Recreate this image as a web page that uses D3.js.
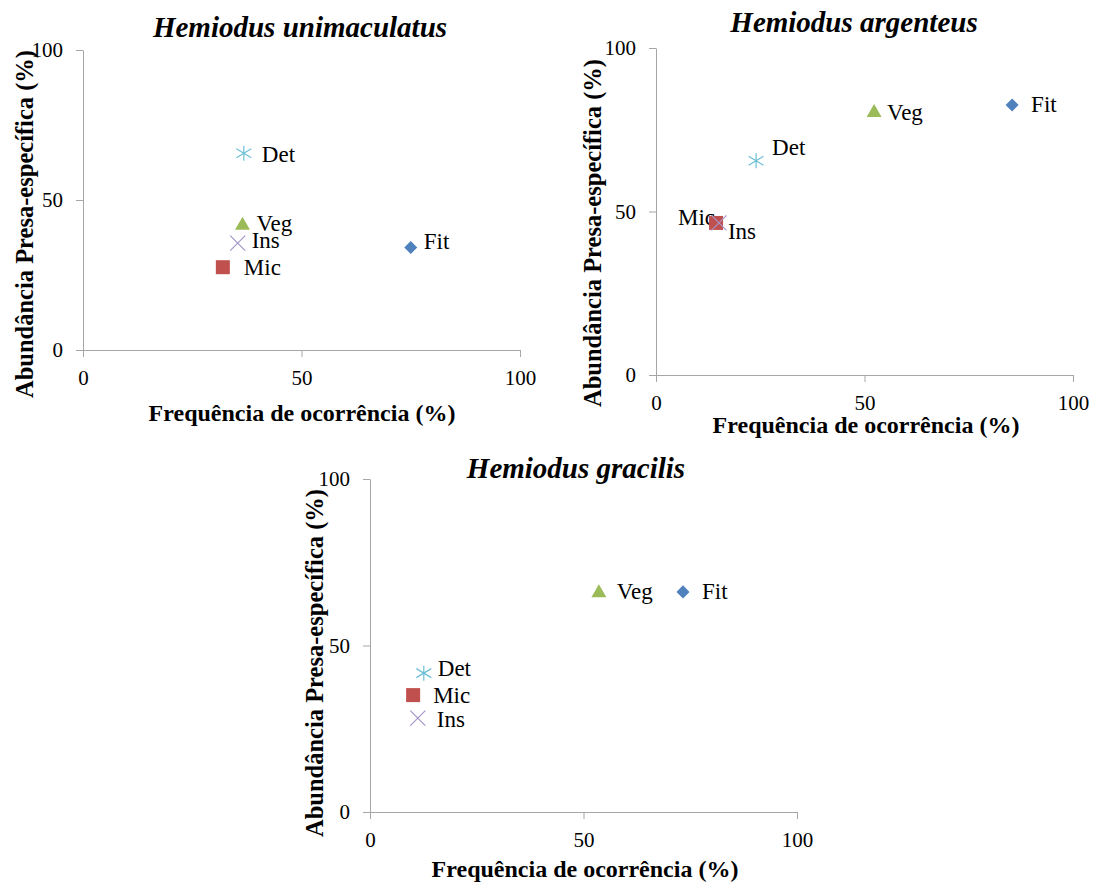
<!DOCTYPE html>
<html>
<head>
<meta charset="utf-8">
<script src="https://cdn.jsdelivr.net/npm/d3@7"></script>
<style>
body { margin: 0; background: #fff; }
svg text { font-family: "Liberation Serif", "Times New Roman", serif; fill: #000; }
.tick line, .domain { stroke: #a6a6a6; }
.tick text { font-size: 21px; }
.title { font-size: 29px; font-weight: bold; font-style: italic; }
.axis-title { font-size: 24px; font-weight: bold; }
.y-title { font-size: 24.5px; }
.point-label { font-size: 23px; }
</style>
</head>
<body>
<div id="viz"></div>
<script>
// data
var categories = ["Fit", "Mic", "Veg", "Ins", "Det"];
var species = ["Hemiodus unimaculatus", "Hemiodus argenteus", "Hemiodus gracilis"];
var freqUnimaculatus  = [75.0, 32.0, 36.5, 35.4, 36.8];
var abundUnimaculatus = [34.2, 27.6, 41.5, 35.6, 65.6];
var freqArgenteus     = [85.4, 14.4, 52.3, 15.1, 24.0];
var abundArgenteus    = [82.6, 46.5, 80.2, 46.5, 65.5];
var freqGracilis      = [73.3, 10.1, 53.6, 11.2, 12.6];
var abundGracilis     = [66.1, 35.1, 65.8, 28.2, 41.7];
var tickValues = [0, 50, 100];
var xTitle = "Frequência de ocorrência (%)";
var yTitle = "Abundância Presa-específica (%)";

var width = 1095, height = 883;
var svg = d3.select("#viz").append("svg").attr("width", width).attr("height", height);

var color = {
  "Fit": "#4f81bd",
  "Mic": "#c0504d",
  "Veg": "#9bbb59",
  "Ins": "#a595c8",
  "Det": "#6cc0d6"
};

// panel layout (pixels)
var panels = [
  { name: species[0], freq: freqUnimaculatus, abund: abundUnimaculatus,
    left: 83, right: 520, top: 50, bottom: 350,
    title: [300, 37], xt: [302, 421], yt: [33, 224],
    // label offsets from marker: [dx, dy, anchor]
    lab: { Fit: [13, -6], Mic: [21, 0], Veg: [14, -2], Ins: [14, -3], Det: [18, 1] } },
  { name: species[1], freq: freqArgenteus, abund: abundArgenteus,
    left: 656, right: 1073, top: 48, bottom: 375,
    title: [854, 32], xt: [866, 433], yt: [601, 233],
    lab: { Fit: [19, 0], Mic: [-1, -6, "end"], Veg: [13, 0], Ins: [9, 8], Det: [16, -13] } },
  { name: species[2], freq: freqGracilis, abund: abundGracilis,
    left: 370, right: 797, top: 479, bottom: 812,
    title: [576, 478], xt: [585, 877], yt: [323, 663],
    lab: { Fit: [19, 0], Mic: [20, 0], Veg: [18, -1], Ins: [19, 1], Det: [14, -5] } }
];

function markerPath(cat) {
  if (cat == "Fit") return d3.symbol().type(d3.symbolSquare).size(85)();
  if (cat == "Mic") return d3.symbol().type(d3.symbolSquare).size(196)();
  if (cat == "Veg") return d3.symbol().type(d3.symbolTriangle).size(97)();
  var r = 7.5;
  if (cat == "Ins") return "M" + (-r) + "," + (-r) + "L" + r + "," + r + "M" + (-r) + "," + r + "L" + r + "," + (-r);
  // Det: asterisk
  return "M" + (-r) + "," + (-r * 0.6) + "L" + r + "," + (r * 0.6) +
         "M" + (-r) + "," + (r * 0.6) + "L" + r + "," + (-r * 0.6) +
         "M0," + (-r) + "V" + r;
}

panels.forEach(function(p) {
  var x = d3.scaleLinear().domain([0, 100]).range([p.left, p.right]);
  var y = d3.scaleLinear().domain([0, 100]).range([p.bottom, p.top]);

  var g = svg.append("g");

  g.append("g")
      .attr("transform", "translate(0," + p.bottom + ")")
      .call(d3.axisBottom(x).tickValues(tickValues).tickSize(7).tickPadding(13).tickSizeOuter(0));

  g.append("g")
      .attr("transform", "translate(" + p.left + ",0)")
      .call(d3.axisLeft(y).tickValues(tickValues).tickSize(7).tickPadding(13).tickSizeOuter(0));

  g.selectAll(".tick text").attr("fill", "#000");

  g.append("text")
      .attr("class", "title")
      .attr("x", p.title[0])
      .attr("y", p.title[1])
      .attr("text-anchor", "middle")
      .text(p.name);

  g.append("text")
      .attr("class", "axis-title")
      .attr("x", p.xt[0])
      .attr("y", p.xt[1])
      .attr("text-anchor", "middle")
      .text(xTitle);

  g.append("text")
      .attr("class", "axis-title y-title")
      .attr("transform", "translate(" + p.yt[0] + "," + p.yt[1] + ") rotate(-90)")
      .attr("text-anchor", "middle")
      .text(yTitle);

  var pts = categories.map(function(c, i) {
    return { cat: c, fx: p.freq[i], ay: p.abund[i] };
  });

  // labels first, markers drawn over them
  g.selectAll(".point-label")
    .data(pts)
    .enter().append("text")
      .attr("class", "point-label")
      .attr("x", function(d) { return x(d.fx) + p.lab[d.cat][0]; })
      .attr("y", function(d) { return y(d.ay) + p.lab[d.cat][1]; })
      .attr("dy", "0.33em")
      .attr("text-anchor", function(d) { return p.lab[d.cat][2] || "start"; })
      .text(function(d) { return d.cat; });

  g.selectAll(".marker")
    .data(pts)
    .enter().append("path")
      .attr("class", "marker")
      .attr("transform", function(d) {
        return "translate(" + x(d.fx) + "," + y(d.ay) + ")" + (d.cat == "Fit" ? " rotate(45)" : "");
      })
      .attr("d", function(d) { return markerPath(d.cat); })
      .style("fill", function(d) { return (d.cat == "Ins" || d.cat == "Det") ? "none" : color[d.cat]; })
      .style("stroke", function(d) { return (d.cat == "Ins" || d.cat == "Det") ? color[d.cat] : "none"; })
      .style("stroke-width", 1.2);
});
</script>
</body>
</html>
